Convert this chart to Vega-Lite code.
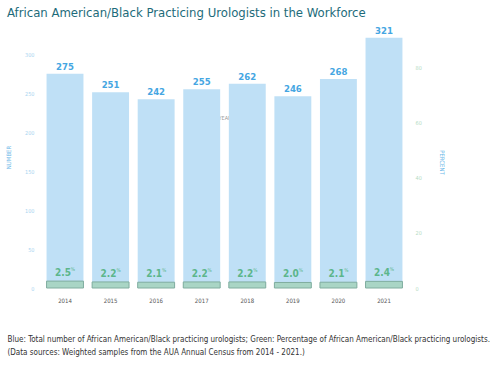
{
  "$schema": "https://vega.github.io/schema/vega-lite/v6.json",
  "width": 365,
  "height": 251,
  "autosize": "none",
  "padding": {"left": 42, "top": 37, "right": 93, "bottom": 77},
  "background": "white",
  "config": {"view": {"stroke": null}, "font": "Liberation Sans Narrow, DejaVu Sans Condensed, Liberation Sans"},
  "title": {
    "text": "African American/Black Practicing Urologists in the Workforce",
    "anchor": "start",
    "frame": "group",
    "dx": -35,
    "offset": 6,
    "fontSize": 13,
    "fontWeight": "normal",
    "color": "#1d6b7a",
    "font": "Liberation Sans Narrow, DejaVu Sans Condensed, Liberation Sans"
  },
  "data": {
    "values": [
      {"year": "2014", "number": 275, "percent": 2.5},
      {"year": "2015", "number": 251, "percent": 2.2},
      {"year": "2016", "number": 242, "percent": 2.1},
      {"year": "2017", "number": 255, "percent": 2.2},
      {"year": "2018", "number": 262, "percent": 2.2},
      {"year": "2019", "number": 246, "percent": 2.0},
      {"year": "2020", "number": 268, "percent": 2.1},
      {"year": "2021", "number": 321, "percent": 2.4}
    ]
  },
  "layer": [
    {
      "encoding": {
        "x": {
          "field": "year", "type": "nominal",
          "scale": {"paddingInner": 0.19, "paddingOuter": 0.1},
          "axis": {
            "orient": "bottom", "labelAngle": 0, "ticks": false, "domain": false,
            "labelFontSize": 6, "labelColor": "#555555", "labelPadding": 9,
            "title": ["Blue: Total number of African American/Black practicing urologists; Green: Percentage of African American/Black practicing urologists.", "(Data sources: Weighted samples from the AUA Annual Census from 2014 - 2021.)"],
            "titleAnchor": "start", "titleAlign": "left", "titleBaseline": "top",
            "titleX": -35, "titleY": 47, "titleFontSize": 8, "titleFontWeight": "normal",
            "titleColor": "#333333", "titleLineHeight": 13
          }
        },
        "y": {
          "field": "number", "type": "quantitative",
          "scale": {"domain": [0, 322], "nice": false},
          "axis": {
            "orient": "left", "values": [0, 50, 100, 150, 200, 250, 300],
            "ticks": false, "domain": false, "grid": false,
            "labelFontSize": 5.5, "labelColor": "#a9d4f0", "labelPadding": 8,
            "title": "NUMBER", "titleFontSize": 6, "titleFontWeight": "normal",
            "titleColor": "#6cb8e8", "titleX": -34, "titleY": 120, "titleAngle": -90,
            "titleBaseline": "middle"
          }
        }
      },
      "layer": [
        {"mark": {"type": "bar", "color": "#bfe0f6"}},
        {
          "mark": {"type": "text", "baseline": "bottom", "dy": -2, "fontSize": 9.5, "fontWeight": "bold", "color": "#45a6e2"},
          "encoding": {"text": {"field": "number", "type": "quantitative"}}
        }
      ]
    },
    {
      "encoding": {
        "x": {
          "field": "year", "type": "nominal",
          "axis": {
            "orient": "top", "labels": false, "ticks": false, "domain": false,
            "title": "YEAR", "titleFontSize": 5.5, "titleFontWeight": "normal",
            "titleColor": "#9a9a9a", "titleY": 80, "titleBaseline": "middle"
          }
        },
        "y": {
          "field": "percent", "type": "quantitative",
          "scale": {"domain": [0, 91], "nice": false},
          "axis": {
            "orient": "right", "values": [0, 20, 40, 60, 80],
            "ticks": false, "domain": false, "grid": false,
            "labelFontSize": 5.5, "labelColor": "#b5dbc4", "labelPadding": 8,
            "title": "PERCENT", "titleFontSize": 6, "titleFontWeight": "normal",
            "titleColor": "#6cb8e8", "titleX": 34, "titleY": 125, "titleAngle": 90,
            "titleBaseline": "middle"
          }
        }
      },
      "layer": [
        {"mark": {"type": "bar", "color": "#a9d5c5", "stroke": "#80ad9f", "strokeWidth": 1}},
        {
          "mark": {"type": "text", "baseline": "alphabetic", "dy": -5, "dx": -2, "fontSize": 10, "fontWeight": "bold", "color": "#5cb68b"},
          "encoding": {"text": {"field": "percent", "type": "quantitative", "format": ".1f"}}
        },
        {
          "mark": {"type": "text", "baseline": "alphabetic", "dy": -10, "dx": 8, "fontSize": 5, "color": "#5cb68b", "text": "%"}
        }
      ]
    }
  ],
  "resolve": {"scale": {"y": "independent"}, "axis": {"x": "independent"}}
}
